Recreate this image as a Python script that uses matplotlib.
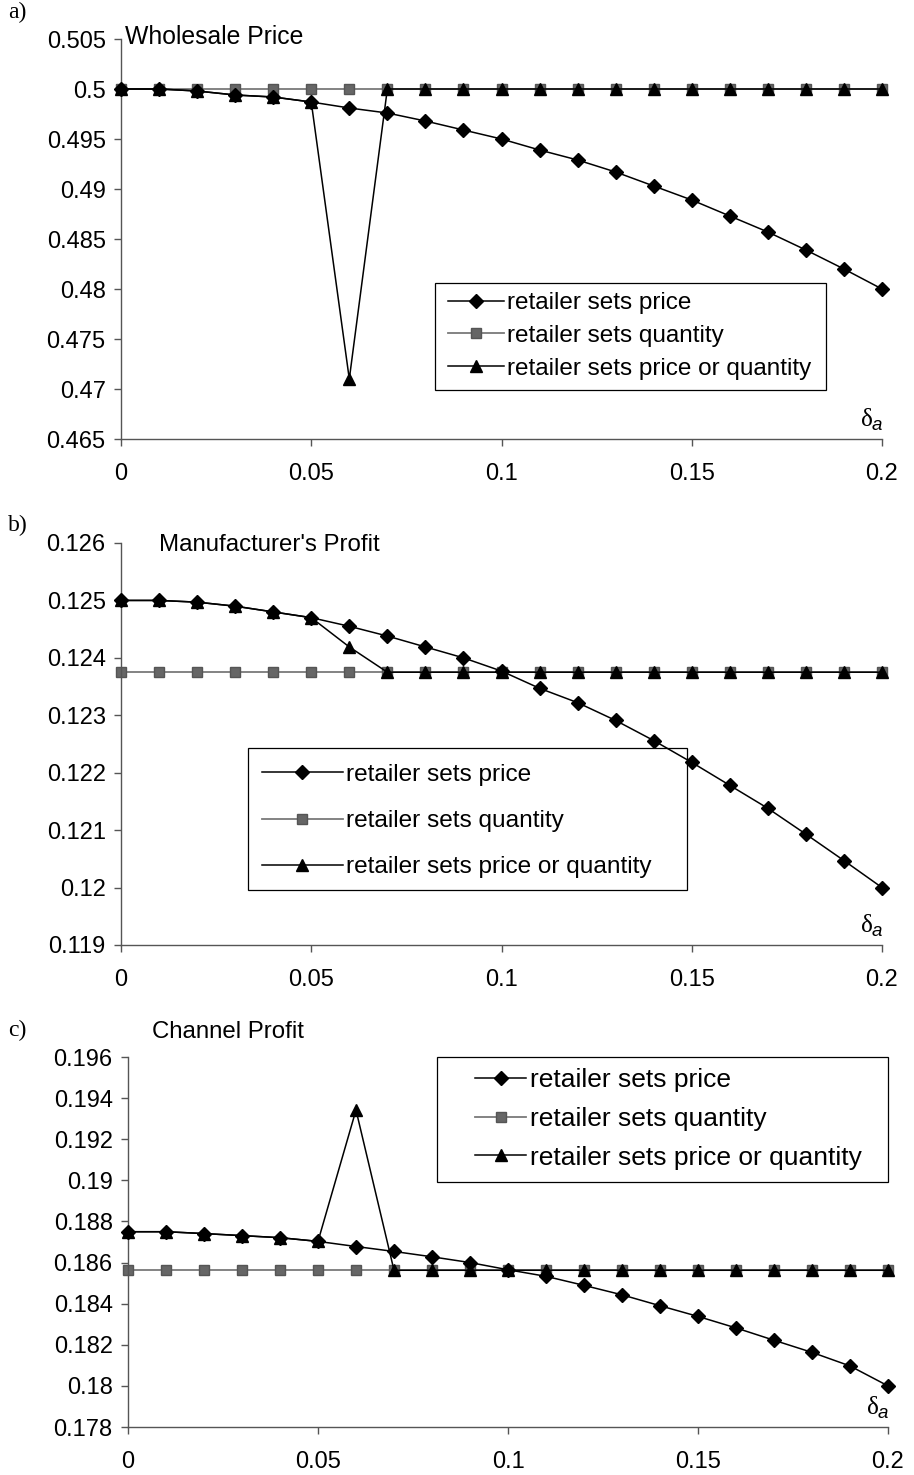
import matplotlib
matplotlib.use('Agg')
import matplotlib.pyplot as plt
from matplotlib.patches import Rectangle
from matplotlib.ticker import FuncFormatter, MultipleLocator

plt.rcParams['font.family'] = ['Liberation Sans', 'DejaVu Sans']

# delta_a values on the x axis
delta = [0, 0.01, 0.02, 0.03, 0.04, 0.05, 0.06, 0.07, 0.08, 0.09, 0.10,
         0.11, 0.12, 0.13, 0.14, 0.15, 0.16, 0.17, 0.18, 0.19, 0.20]

# a) wholesale price
wp_price = [0.5, 0.5, 0.4998, 0.4994, 0.4992, 0.4987, 0.4981, 0.4976, 0.4968,
            0.4959, 0.495, 0.4939, 0.4929, 0.4917, 0.4903, 0.4889, 0.4873,
            0.4857, 0.4839, 0.482, 0.48]
wp_quantity = [0.5] * 21
wp_either = [0.5, 0.5, 0.4998, 0.4994, 0.4992, 0.4987, 0.471, 0.5, 0.5, 0.5,
             0.5, 0.5, 0.5, 0.5, 0.5, 0.5, 0.5, 0.5, 0.5, 0.5, 0.5]

# b) manufacturer's profit
mp_price = [0.125, 0.125, 0.12497, 0.1249, 0.1248, 0.1247, 0.12455, 0.12438,
            0.12419, 0.124, 0.12377, 0.12347, 0.12322, 0.12291, 0.12256,
            0.12218, 0.12178, 0.12138, 0.12093, 0.12047, 0.12]
mp_quantity = [0.12375] * 21
mp_either = [0.125, 0.125, 0.12497, 0.1249, 0.1248, 0.1247, 0.12419, 0.12375,
             0.12375, 0.12375, 0.12375, 0.12375, 0.12375, 0.12375, 0.12375,
             0.12375, 0.12375, 0.12375, 0.12375, 0.12375, 0.12375]

# c) channel profit
cp_price = [0.1875, 0.1875, 0.18741, 0.18731, 0.18721, 0.18703, 0.18678,
            0.18654, 0.18628, 0.186, 0.18565, 0.18533, 0.18489, 0.18443,
            0.1839, 0.18338, 0.18282, 0.18222, 0.18163, 0.18097, 0.18]
cp_quantity = [0.185625] * 21
cp_either = [0.1875, 0.1875, 0.18741, 0.18731, 0.18721, 0.18703, 0.19342,
             0.185625, 0.185625, 0.185625, 0.185625, 0.185625, 0.185625,
             0.185625, 0.185625, 0.185625, 0.185625, 0.185625, 0.185625,
             0.185625, 0.185625]

labels = ['retailer sets price', 'retailer sets quantity',
          'retailer sets price or quantity']

W, H = 914, 1475
fig = plt.figure(figsize=(W / 100, H / 100), dpi=100)


def px_axes(left, top, right, bottom):
    return fig.add_axes([left / W, 1 - bottom / H, (right - left) / W, (bottom - top) / H])


fmt = FuncFormatter(lambda v, p: '%g' % round(v, 6))


def draw(ax, price, quantity, either, ylim, ystep):
    ax.plot(delta, price, color='black', lw=1.1, marker='D', ms=6.8,
            clip_on=False, zorder=3, label=labels[0])
    ax.plot(delta, quantity, color='#7a7a7a', lw=1.3, marker='s', ms=6.8,
            mfc='#666666', mec='#555555', clip_on=False, zorder=2, label=labels[1])
    ax.plot(delta, either, color='black', lw=1.1, marker='^', ms=8.5,
            clip_on=False, zorder=4, label=labels[2])
    ax.set_xlim(0, 0.2)
    ax.set_ylim(*ylim)
    ax.xaxis.set_major_locator(MultipleLocator(0.05))
    ax.yaxis.set_major_locator(MultipleLocator(ystep))
    ax.xaxis.set_major_formatter(fmt)
    ax.yaxis.set_major_formatter(fmt)
    for s in ['top', 'right']:
        ax.spines[s].set_visible(False)
    for s in ['left', 'bottom']:
        ax.spines[s].set_color('#555555')
        ax.spines[s].set_linewidth(1)
    ax.tick_params(direction='out', length=5, width=1, color='#555555',
                   labelsize=17, pad=6)
    ax.tick_params(axis='x', pad=12)
    ax.annotate('δ', xy=(1, 0), xycoords='axes fraction', xytext=(-9, 8),
                textcoords='offset pixels', ha='right', va='bottom',
                fontsize=18, family='Liberation Serif')
    ax.annotate('a', xy=(1, 0), xycoords='axes fraction', xytext=(0, 5),
                textcoords='offset pixels', ha='right', va='bottom',
                fontsize=13.5, style='italic')


def legend(ax, box, x_handle, y_mid, size, hlen, spacing):
    # box in pixels: left, top, right, bottom
    l, t, r, b = box
    ax.add_patch(Rectangle((l / W, 1 - b / H), (r - l) / W, (b - t) / H,
                           transform=fig.transFigure, fill=False,
                           edgecolor='black', lw=0.9, zorder=1, clip_on=False))
    lg = ax.legend(fontsize=size, frameon=False, loc='center left',
                   bbox_to_anchor=(x_handle / W, 1 - y_mid / H),
                   bbox_transform=fig.transFigure, borderpad=0, borderaxespad=0,
                   handlelength=hlen, handletextpad=0.12, labelspacing=spacing)
    lg.set_zorder(6)


ax1 = px_axes(121, 39, 882, 439)
draw(ax1, wp_price, wp_quantity, wp_either, (0.465, 0.505), 0.005)
legend(ax1, (435, 283, 826, 390), 448, 336, 17.5, 2.3, 0.45)

ax2 = px_axes(121, 543, 882, 945)
draw(ax2, mp_price, mp_quantity, mp_either, (0.119, 0.126), 0.001)
legend(ax2, (248, 748, 687, 890), 262, 821, 17.6, 3.3, 0.98)

ax3 = px_axes(128, 1057, 888, 1427)
draw(ax3, cp_price, cp_quantity, cp_either, (0.178, 0.196), 0.002)
legend(ax3, (437, 1057, 888, 1182), 475, 1119, 19, 1.95, 0.55)

# panel titles and letters
fig.text(125 / W, 1 - 37 / H, 'Wholesale Price', fontsize=17.8, va='center')
fig.text(159 / W, 1 - 545 / H, "Manufacturer's Profit", fontsize=17.3, va='center')
fig.text(152 / W, 1 - 1032 / H, 'Channel Profit', fontsize=17.3, va='center')
for lab, y in [('a)', 12), ('b)', 525), ('c)', 1030)]:
    fig.text(8 / W, 1 - y / H, lab, fontsize=17, va='center',
             family='Liberation Serif')

fig.savefig('out.png', dpi=100)
